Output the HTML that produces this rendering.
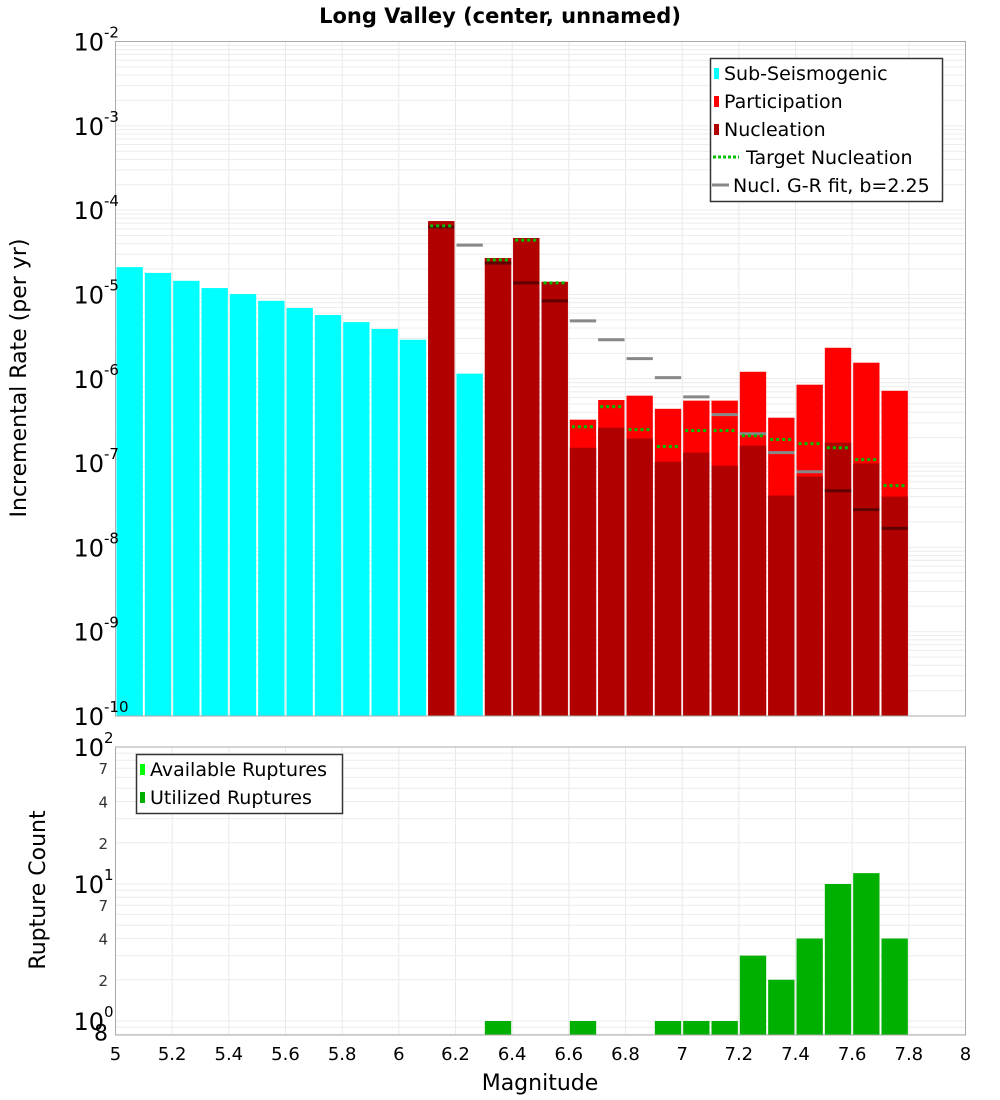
<!DOCTYPE html>
<html><head><meta charset="utf-8"><style>
body{margin:0;background:#fff;}
svg{display:block;font-family:"DejaVu Sans","Liberation Sans",sans-serif;}
</style></head><body>
<svg id="chart" width="1000" height="1100" xmlns="http://www.w3.org/2000/svg">
<text x="500" y="23" text-anchor="middle" font-size="21" font-weight="bold">Long Valley (center, unnamed)</text>
<g id="topPlot"></g>
<g id="botPlot"></g>
<text transform="translate(26,378) rotate(-90)" text-anchor="middle" font-size="22">Incremental Rate (per yr)</text>
<text transform="translate(45,890) rotate(-90)" text-anchor="middle" font-size="22">Rupture Count</text>
<text x="540" y="1090" text-anchor="middle" font-size="22">Magnitude</text>
<g>
<rect x="710.5" y="58.5" width="232" height="143" fill="#fff" stroke="#333" stroke-width="1.5"/>
<rect x="714" y="68" width="5" height="11" fill="#00ffff"/><text x="724" y="80" font-size="19">Sub-Seismogenic</text>
<rect x="714" y="96" width="5" height="11" fill="#ff0000"/><text x="724" y="108" font-size="19">Participation</text>
<rect x="714" y="124" width="5" height="11" fill="#b00000"/><text x="724" y="136" font-size="19">Nucleation</text>
<line x1="713" y1="157" x2="739" y2="157" stroke="#00c000" stroke-width="3" stroke-dasharray="3,2"/><text x="746" y="164" font-size="19">Target Nucleation</text>
<line x1="712" y1="185" x2="729" y2="185" stroke="#888" stroke-width="3"/><text x="733" y="192" font-size="19">Nucl. G-R fit, b=2.25</text>
</g>
<g>
<rect x="136.5" y="754.5" width="206" height="59" fill="#fff" stroke="#333" stroke-width="1.5"/>
<rect x="140" y="764" width="5" height="11" fill="#00ff00"/><text x="150" y="776" font-size="19">Available Ruptures</text>
<rect x="140" y="792" width="5" height="11" fill="#00b000"/><text x="150" y="804" font-size="19">Utilized Ruptures</text>
</g>
</svg>
<script>
const subMags=[5.0,5.1,5.2,5.3,5.4,5.5,5.6,5.7,5.8,5.9,6.0,6.2];
const subRates=[2.11e-5,1.80e-5,1.45e-5,1.19e-5,1.01e-5,8.4e-6,6.9e-6,5.7e-6,4.7e-6,3.9e-6,2.9e-6,1.15e-6];
const supMags=[6.1,6.3,6.4,6.5,6.6,6.7,6.8,6.9,7.0,7.1,7.2,7.3,7.4,7.5,7.6,7.7];
const partRates=[7.4e-5,2.7e-5,4.67e-5,1.41e-5,3.27e-7,5.6e-7,6.3e-7,4.4e-7,5.5e-7,5.5e-7,1.21e-6,3.45e-7,8.5e-7,2.33e-6,1.55e-6,7.2e-7];
const nuclRates=[7.4e-5,2.7e-5,4.67e-5,1.41e-5,1.52e-7,2.63e-7,1.95e-7,1.04e-7,1.33e-7,9.3e-8,1.61e-7,4.12e-8,6.9e-8,1.75e-7,9.9e-8,4.0e-8];
const targetRates=[6.5e-5,2.57e-5,4.4e-5,1.37e-5,2.7e-7,4.67e-7,2.49e-7,1.57e-7,2.43e-7,2.43e-7,2.11e-7,1.9e-7,1.7e-7,1.52e-7,1.1e-7,5.4e-8];
const grMags=[6.1,6.2,6.3,6.4,6.5,6.6,6.7,6.8,6.9,7.0,7.1,7.2,7.3,7.4,7.5,7.6,7.7];
const grRates=[6.3e-5,3.85e-5,2.36e-5,1.37e-5,8.4e-6,4.85e-6,2.9e-6,1.73e-6,1.03e-6,6.1e-7,3.75e-7,2.23e-7,1.33e-7,7.9e-8,4.7e-8,2.8e-8,1.68e-8];
const cntMags=[6.3,6.6,6.9,7.0,7.1,7.2,7.3,7.4,7.5,7.6,7.7];
const cntVals=[1,1,1,1,1,3,2,4,10,12,4];
const xTicks=["5","5.2","5.4","5.6","5.8","6","6.2","6.4","6.6","6.8","7","7.2","7.4","7.6","7.8","8"];
const rateExps=[-2,-3,-4,-5,-6,-7,-8,-9,-10];

const NS="http://www.w3.org/2000/svg";
const L=115.5,R=965.5,T1=41.5,B1=716,T2=747,B2=1035;
const X=m=>L+(m-5)/3*(R-L);
const Y1=v=>T1+(-2-Math.log10(v))*(B1-T1)/8;
const Y2=v=>1021-Math.log10(v)*137;
function mk(p,tag,a){const e=document.createElementNS(NS,tag);for(const k in a)e.setAttribute(k,a[k]);p.appendChild(e);return e;}
const topG=document.getElementById('topPlot'),botG=document.getElementById('botPlot');
for(const [g,t,b] of [[topG,T1,B1],[botG,T2,B2]]){
  mk(g,'rect',{x:L,y:t,width:R-L,height:b-t,fill:'#fff'});
  for(let i=0;i<xTicks.length;i++){const x=X(5+i*0.2);const ln=mk(g,'line',{x1:x,x2:x,y1:t,y2:b,stroke:'#e8e8e8'});
  
  }
}
for(let e=-10;e<-2;e++)for(let k=1;k<10;k++){const y=Y1(k*Math.pow(10,e));const ln=mk(topG,'line',{x1:L,x2:R,y1:y,y2:y,stroke:'#ececec'});

}
for(let e=-1;e<2;e++)for(let k=1;k<10;k++){const v=k*Math.pow(10,e);const y=Y2(v);if(y<T2||y>B2)continue;const ln=mk(botG,'line',{x1:L,x2:R,y1:y,y2:y,stroke:'#ececec'});

}
const bw=(X(5.1)-X(5))-2;
subMags.forEach((m,i)=>{const y=Y1(subRates[i]);const r=mk(topG,'rect',{x:X(m)+1,y:y,width:bw,height:B1-y,fill:'#00ffff'});

});
supMags.forEach((m,i)=>{let y=Y1(partRates[i]);let r=mk(topG,'rect',{x:X(m)+1,y:y,width:bw,height:B1-y,fill:'#ff0000'});


y=Y1(nuclRates[i]);r=mk(topG,'rect',{x:X(m)+1,y:y,width:bw,height:B1-y,fill:'#b00000'});

});
grMags.forEach((m,i)=>{const y=Y1(grRates[i]);const j=supMags.indexOf(m);const inBar=j>=0&&nuclRates[j]>grRates[i];
const ln=mk(topG,'line',{x1:X(m)+1,x2:X(m)+bw+1,y1:y,y2:y,stroke:inBar?'#600000':'#888',"stroke-width":3});

});
supMags.forEach((m,i)=>{const y=Y1(targetRates[i]);const ln=mk(topG,'line',{x1:X(m)+3,x2:X(m)+bw,y1:y,y2:y,stroke:'#00c000',"stroke-width":3,"stroke-dasharray":"3,3"});

});
cntMags.forEach((m,i)=>{const y=Y2(cntVals[i]);const r=mk(botG,'rect',{x:X(m)+1,y:y,width:bw,height:B2-y,fill:'#00b000'});

});
for(const [g,t,b] of [[topG,T1,B1],[botG,T2,B2]])mk(g,'rect',{x:L,y:t,width:R-L,height:b-t,fill:'none',stroke:'#aaa'});
rateExps.forEach(e=>{const y=Y1(Math.pow(10,e));const t=mk(topG,'text',{x:104,y:y+9,"text-anchor":"end","font-size":24});t.textContent='10';


const s=mk(topG,'text',{x:104,y:y-4,"font-size":15});s.textContent=String(e);});
[[100,'10','2'],[10,'10','1'],[1,'10','0']].forEach(([v,a,b])=>{const y=Y2(v);const t=mk(botG,'text',{x:104,y:y+9,"text-anchor":"end","font-size":24});t.textContent=a;


const s=mk(botG,'text',{x:104,y:y-4,"font-size":15});s.textContent=b;});
[[70,'7'],[40,'4'],[20,'2'],[7,'7'],[4,'4'],[2,'2'],[0.8,'8']].forEach(([v,s])=>{const y=Y2(v);const t=mk(botG,'text',{x:108,y:y+6,"text-anchor":"end","font-size":v<1?22:15,fill:v<1?'#000':'#333'});t.textContent=s;

});
xTicks.forEach((s,i)=>{const t=mk(botG,'text',{x:X(5+i*0.2),y:1060,"text-anchor":"middle","font-size":18});t.textContent=s;

});
</script>
</body></html>
